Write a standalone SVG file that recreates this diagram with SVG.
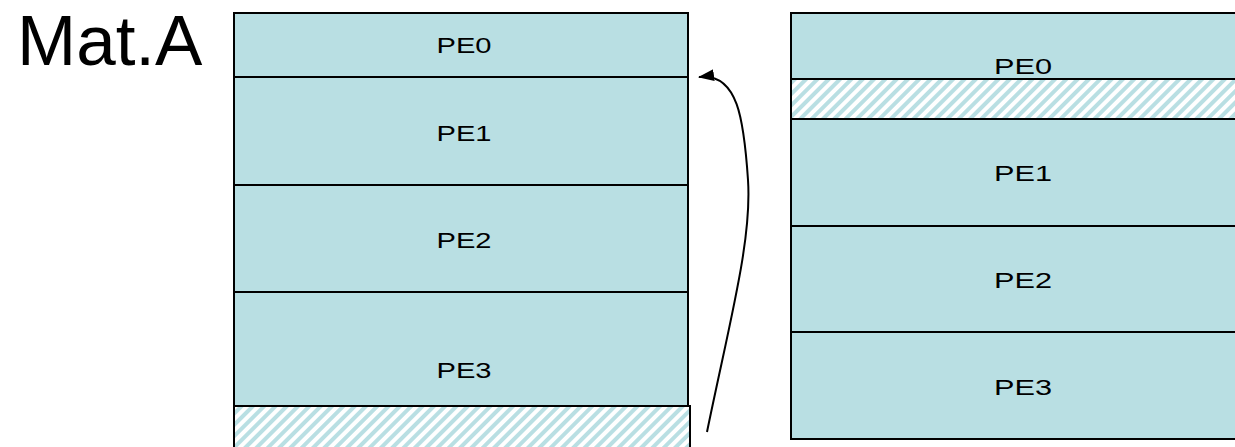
<svg xmlns="http://www.w3.org/2000/svg" width="1235" height="447" viewBox="0 0 1235 447">
<defs>
<style>
.cell{fill:#b9dfe3;stroke:#000;stroke-width:2}
.hatch{fill:url(#hp);stroke:#000;stroke-width:2}
.lbl{font-family:"Liberation Sans",Arial,sans-serif;font-size:22px;fill:#000;text-anchor:middle}
.title{font-family:"Liberation Sans",Arial,sans-serif;font-size:71px;fill:#000}
.conn{fill:none;stroke:#000;stroke-width:2}
</style>
<pattern id="hp" patternUnits="userSpaceOnUse" width="8" height="8" patternTransform="rotate(45)">
<rect width="8" height="8" fill="#fff"/>
<rect width="4" height="8" fill="#b9dfe3"/>
</pattern>
<marker id="ah" markerWidth="16" markerHeight="12" refX="15" refY="6" orient="auto" markerUnits="userSpaceOnUse" viewBox="0 0 16 12">
<path d="M0,0 L16,6 L0,12 z" fill="#000"/>
</marker>
</defs>
<rect width="1235" height="447" fill="#fff"/>
<text class="title" x="17" y="65">Mat.A</text>
<g id="matA">
<g id="a-pe0"><rect class="cell" x="234" y="13" width="454" height="64"/><text class="lbl" x="464" y="53" textLength="55" lengthAdjust="spacingAndGlyphs">PE0</text></g>
<g id="a-pe1"><rect class="cell" x="234" y="77" width="454" height="108"/><text class="lbl" x="464" y="141" textLength="55" lengthAdjust="spacingAndGlyphs">PE1</text></g>
<g id="a-pe2"><rect class="cell" x="234" y="185" width="454" height="107"/><text class="lbl" x="464" y="248" textLength="55" lengthAdjust="spacingAndGlyphs">PE2</text></g>
<g id="a-pe3"><rect class="cell" x="234" y="292" width="454" height="114"/><text class="lbl" x="464" y="378" textLength="55" lengthAdjust="spacingAndGlyphs">PE3</text></g>
<g id="a-pad"><rect class="hatch" x="234" y="406" width="456" height="45"/></g>
</g>
<g id="matB">
<g id="b-pe0"><rect class="cell" x="791" y="13" width="450" height="66"/><text class="lbl" x="1023" y="74" textLength="58" lengthAdjust="spacingAndGlyphs">PE0</text></g>
<g id="b-pad"><rect class="hatch" x="791" y="79" width="450" height="40"/></g>
<g id="b-pe1"><rect class="cell" x="791" y="119" width="450" height="107"/><text class="lbl" x="1023" y="181" textLength="58" lengthAdjust="spacingAndGlyphs">PE1</text></g>
<g id="b-pe2"><rect class="cell" x="791" y="226" width="450" height="106"/><text class="lbl" x="1023" y="288" textLength="58" lengthAdjust="spacingAndGlyphs">PE2</text></g>
<g id="b-pe3"><rect class="cell" x="791" y="332" width="450" height="107"/><text class="lbl" x="1023" y="395" textLength="58" lengthAdjust="spacingAndGlyphs">PE3</text></g>
</g>
<g id="connectors">
<path class="conn" d="M707,432 C730,320 752,240 748,180 C744,120 738,72 699,77" marker-end="url(#ah)"/>
</g>
</svg>
